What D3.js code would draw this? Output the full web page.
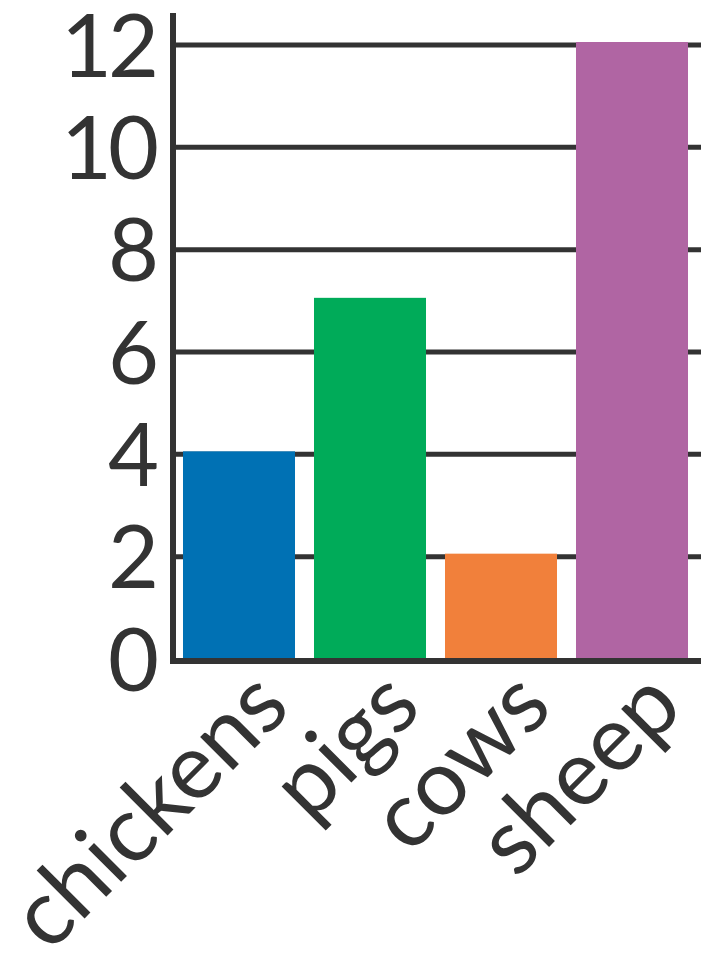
<!DOCTYPE html>
<html>
<head>
<meta charset="utf-8">
<script src="https://cdn.jsdelivr.net/npm/d3@7"></script>
<style>
  body { margin: 0; background: #fff; }
  text { font-family: "Lato", "DejaVu Sans", sans-serif; fill: #333; }
</style>
</head>
<body>
<div id="chart"></div>
<script>
// data
var animals = ["chickens", "pigs", "cows", "sheep"];
var counts = [4, 7, 2, 12];
var barColors = ["#0071b4", "#00ab59", "#f1803b", "#b065a3"];
var yTicks = [0, 2, 4, 6, 8, 10, 12];

var width = 701,
  height = 963;

var svg = d3
  .select("#chart")
  .append("svg")
  .attr("width", width)
  .attr("height", height);

// scales
var x = d3.scaleBand().domain(animals).range([173.5, 697.5]).paddingInner(0.145).paddingOuter(0.0725);
var y = d3.scaleLinear().domain([0, 12]).range([659, 45]);

// gridlines
svg
  .append("g")
  .selectAll("line")
  .data(yTicks.filter((d) => d > 0))
  .enter()
  .append("line")
  .attr("x1", 173)
  .attr("x2", width)
  .attr("y1", (d) => y(d))
  .attr("y2", (d) => y(d))
  .style("stroke", "#333")
  .style("stroke-width", "5px");

// bars
svg
  .append("g")
  .selectAll("rect")
  .data(counts)
  .enter()
  .append("rect")
  .attr("x", (d, i) => x(animals[i]))
  .attr("width", x.bandwidth())
  .attr("y", (d) => y(d) - 3)
  .attr("height", (d) => y(0) - y(d) + 3)
  .attr("fill", (d, i) => barColors[i]);

// axis lines
svg
  .append("line")
  .attr("x1", 173)
  .attr("x2", 173)
  .attr("y1", 13)
  .attr("y2", 664)
  .style("stroke", "#333")
  .style("stroke-width", "6px");
svg
  .append("line")
  .attr("x1", 170)
  .attr("x2", width)
  .attr("y1", y(0) + 2)
  .attr("y2", y(0) + 2)
  .style("stroke", "#333")
  .style("stroke-width", "6px");

// y tick labels
svg
  .append("g")
  .selectAll("text")
  .data(yTicks)
  .enter()
  .append("text")
  .attr("x", 155)
  .attr("y", (d) => y(d))
  .attr("dy", "0.36em")
  .attr("text-anchor", "end")
  .style("font-size", "88px")
  .style("letter-spacing", "-4px")
  .text((d) => d);

// x labels, rotated
svg
  .append("g")
  .selectAll("text")
  .data(animals)
  .enter()
  .append("text")
  .attr("text-anchor", "end")
  .attr("transform", (d) => "translate(" + (x(d) + x.bandwidth() - 2) + ",710) rotate(-45)")
  .style("font-size", "92px")
  .text((d) => d);
</script>
</body>
</html>
